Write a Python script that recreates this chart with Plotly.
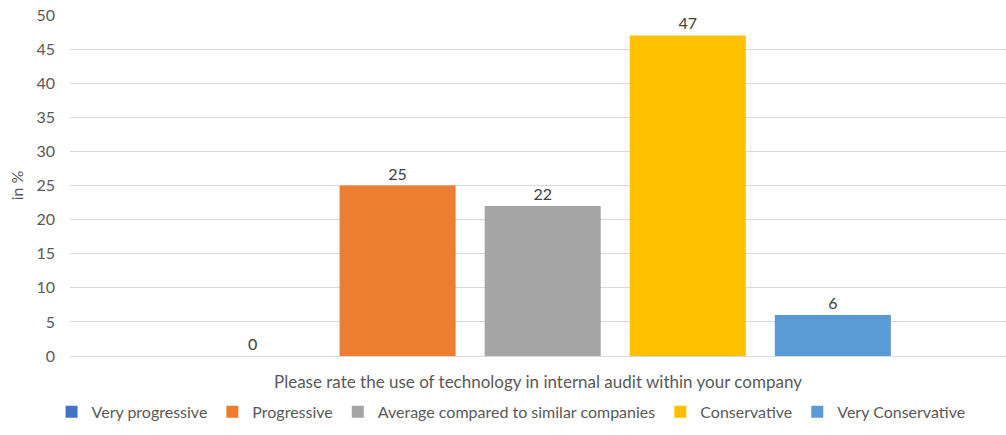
import plotly.graph_objects as go

category = ["Please rate the use of technology in internal audit within your company"]
series_names = ["Very progressive", "Progressive", "Average compared to similar companies",
                "Conservative", "Very Conservative"]
series_values = [0, 25, 22, 47, 6]
colors = ["#4472C4", "#ED7D31", "#A5A5A5", "#FFC000", "#5B9BD5"]
y_ticks = [0, 5, 10, 15, 20, 25, 30, 35, 40, 45, 50]

FONT = "Lato, 'Open Sans', sans-serif"

fig = go.Figure()
for name, val, col in zip(series_names, series_values, colors):
    fig.add_trace(go.Bar(
        x=category, y=[val], name=name, marker_color=col, marker_line_width=0,
        text=[str(val)], textposition="outside", cliponaxis=False,
        textfont=dict(size=16, color="#404040", family=FONT),
    ))

fig.update_layout(
    width=1006, height=435,
    margin=dict(l=70, r=0, t=15, b=79, autoexpand=False),
    paper_bgcolor="white", plot_bgcolor="white",
    barmode="group", bargap=0.225, bargroupgap=0.2,
    font=dict(family=FONT, size=16, color="#595959"),
    showlegend=True,
    legend=dict(orientation="h", xref="container", x=0.508, xanchor="center",
                yref="container", y=0.053, yanchor="middle",
                font=dict(size=16, color="#595959"), itemwidth=30,
                traceorder="normal"),
    xaxis=dict(showticklabels=False, showgrid=False, showline=False, zeroline=False,
               automargin=False, range=[-0.505, 0.495]),
    yaxis=dict(range=[0, 50], tickvals=y_ticks, showgrid=True, gridcolor="#D9D9D9",
               gridwidth=1, zeroline=True, zerolinecolor="#D9D9D9", zerolinewidth=1,
               showline=False, ticks="", ticklabelstandoff=14, automargin=False,
               tickfont=dict(size=16, color="#595959"),
               title=dict(text="in %", font=dict(size=16, color="#595959"), standoff=8)),
    annotations=[dict(text=category[0], xref="paper", yref="paper", x=0.5, y=0,
                      yshift=-25, yanchor="middle", showarrow=False,
                      font=dict(size=17, color="#595959"))],
)

fig.write_html("out.html")
